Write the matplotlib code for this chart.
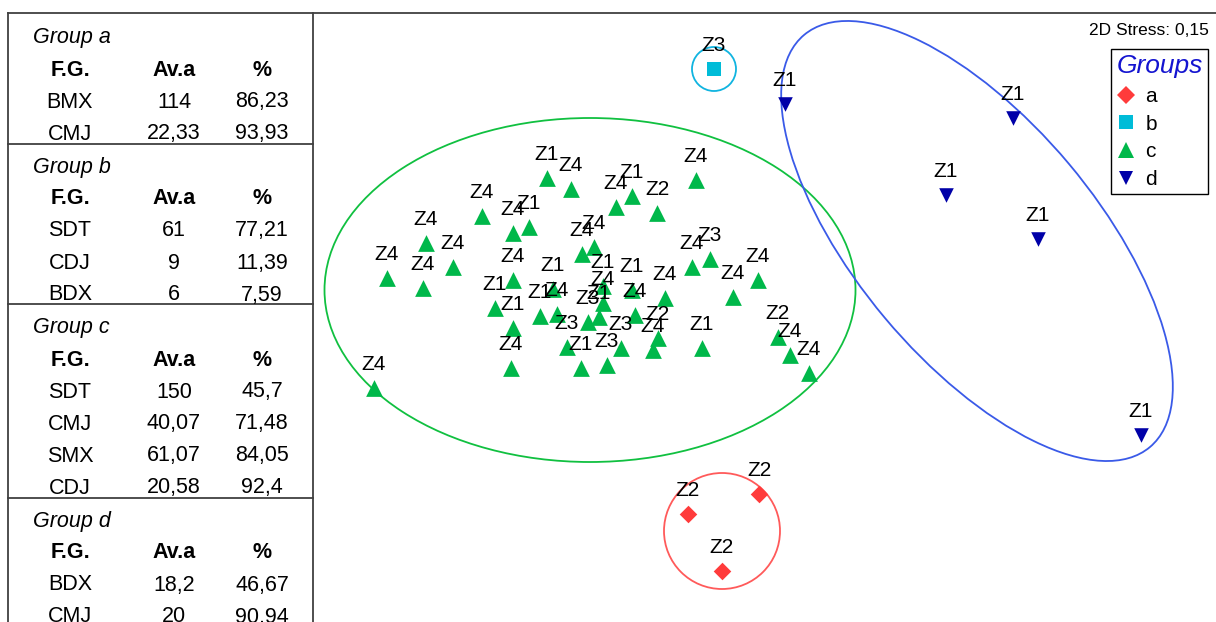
import matplotlib.pyplot as plt
from matplotlib.patches import Ellipse, Circle
from matplotlib.lines import Line2D

plt.rcParams['font.family'] = ['Liberation Sans', 'DejaVu Sans']

# --- nMDS coordinates (dim 1, dim 2) and sample labels ---
a_x = [1.59, 0.88, 1.22]
a_y = [-1.94, -2.14, -2.71]
a_lab = ['Z2', 'Z2', 'Z2']

b_x = [1.14]
b_y = [2.31]
b_lab = ['Z3']

c_x = [-0.53, -0.29, 0.32, 0.16, 0.57, 0.96, -1.18, -0.87, -0.71, -1.74,
       -1.47, -2.13, -1.77, -0.18, -0.06, 0.92, 1.10, 1.58, 1.33, -0.87,
       -0.47, 0.03, 0.03, 0.32, 0.35, 0.65, -1.05, -0.87, -0.60, -0.43,
       -0.12, -0.01, -0.33, 0.21, 0.58, 0.53, -0.19, 0.07, -0.89, 1.02,
       1.78, 1.90, 2.09, -2.26]
c_y = [1.22, 1.11, 1.04, 0.93, 0.87, 1.20, 0.84, 0.67, 0.73, 0.57,
       0.33, 0.22, 0.12, 0.46, 0.53, 0.33, 0.41, 0.20, 0.03, 0.20,
       0.11, 0.14, -0.03, 0.10, -0.15, 0.02, -0.08, -0.28, -0.16, -0.14,
       -0.22, -0.17, -0.47, -0.48, -0.38, -0.50, -0.68, -0.65, -0.68, -0.48,
       -0.37, -0.55, -0.73, -0.88]
c_lab = ['Z1', 'Z4', 'Z1', 'Z4', 'Z2', 'Z4', 'Z4', 'Z4', 'Z1', 'Z4',
         'Z4', 'Z4', 'Z4', 'Z4', 'Z4', 'Z4', 'Z3', 'Z4', 'Z4', 'Z4',
         'Z1', 'Z1', 'Z4', 'Z1', 'Z4', 'Z4', 'Z1', 'Z1', 'Z1', 'Z4',
         'Z3', 'Z1', 'Z3', 'Z3', 'Z2', 'Z4', 'Z1', 'Z3', 'Z4', 'Z1',
         'Z2', 'Z4', 'Z4', 'Z4']

d_x = [1.85, 4.13, 3.46, 4.38, 5.41]
d_y = [1.96, 1.82, 1.05, 0.61, -1.35]
d_lab = ['Z1', 'Z1', 'Z1', 'Z1', 'Z1']

stress = '0,15'

# --- functional group summary table ---
tab_groups = ['Group a', 'Group b', 'Group c', 'Group d']
tab_header = ['F.G.', 'Av.a', '%']
fg_a = ['BMX', 'CMJ']
av_a = ['114', '22,33']
pct_a = ['86,23', '93,93']
fg_b = ['SDT', 'CDJ', 'BDX']
av_b = ['61', '9', '6']
pct_b = ['77,21', '11,39', '7,59']
fg_c = ['SDT', 'CMJ', 'SMX', 'CDJ']
av_c = ['150', '40,07', '61,07', '20,58']
pct_c = ['45,7', '71,48', '84,05', '92,4']
fg_d = ['BDX', 'CMJ']
av_d = ['18,2', '20']
pct_d = ['46,67', '90,94']

W, H = 1216, 622
fig = plt.figure(figsize=(W / 100, H / 100), dpi=100)


def fx(px):
    return px / W


def fy(py):
    return 1 - py / H


line_col = '#404040'

# frame lines of the table and top rule
fig.add_artist(Line2D([fx(8), 1], [fy(13), fy(13)], color=line_col, lw=1.3))
fig.add_artist(Line2D([fx(8), fx(8)], [fy(13), 0], color=line_col, lw=1.3))
fig.add_artist(Line2D([fx(313), fx(313)], [fy(13), 0], color=line_col, lw=1.3))

col_x = [70, 174, 262]
pitch = 32
y = 36
blocks = [(fg_a, av_a, pct_a), (fg_b, av_b, pct_b),
          (fg_c, av_c, pct_c), (fg_d, av_d, pct_d)]
for gi, (fg, av, pct) in enumerate(blocks):
    fig.text(fx(33), fy(y + 7.5), tab_groups[gi], fontsize=15.5, style='italic',
             ha='left', va='baseline')
    y += pitch
    for cx, h in zip(col_x, tab_header):
        fig.text(fx(cx), fy(y + 7.5), h, fontsize=15.5, weight='bold',
                 ha='center', va='baseline')
    for row in zip(fg, av, pct):
        y += pitch
        for cx, v in zip(col_x, row):
            fig.text(fx(cx), fy(y + 7.5), v, fontsize=15.5,
                     ha='center', va='baseline')
    if gi < len(blocks) - 1:
        sep = y + 11.5
        fig.add_artist(Line2D([fx(8), fx(313)], [fy(sep), fy(sep)],
                              color=line_col, lw=1.3))
        y = sep + 21.5

# --- ordination plot ---
ax = fig.add_axes([fx(313), 0, fx(W - 313), (H - 13) / H])
ax.set_xlim(-2.87, 6.16)
ax.set_ylim(-3.22, 2.87)
ax.axis('off')

# group envelopes
ax.add_patch(Ellipse((-0.10, 0.10), 5.31, 3.44, fill=False,
                     edgecolor='#10c040', lw=1.3))
ax.add_patch(Ellipse((3.77, 0.59), 5.38, 2.40, angle=-50, fill=False,
                     edgecolor='#3a5ae8', lw=1.3))
ax.add_patch(Circle((1.22, -2.31), 0.58, fill=False,
                    edgecolor='#ff5a5a', lw=1.3))
ax.add_patch(Circle((1.14, 2.31), 0.22, fill=False,
                    edgecolor='#10b4e0', lw=1.3))

groups = [
    (a_x, a_y, a_lab, 'D', '#ff3b3b', 80, 'a'),
    (b_x, b_y, b_lab, 's', '#00bcd8', 100, 'b'),
    (c_x, c_y, c_lab, '^', '#00b84a', 145, 'c'),
    (d_x, d_y, d_lab, 'v', '#0000a8', 110, 'd'),
]
for xs, ys, labs, mk, col, s, name in groups:
    ax.scatter(xs, ys, marker=mk, s=s, color=col, linewidths=0, zorder=3)
    for x, yy, lab in zip(xs, ys, labs):
        ax.annotate(lab, (x, yy), xytext=(0, 13), textcoords='offset points',
                    ha='center', va='baseline', fontsize=15, zorder=4)

handles = [Line2D([], [], ls='none', marker=mk, color=col, mew=0,
                  ms=s ** 0.5, label=name)
           for _, _, _, mk, col, s, name in groups]
leg = ax.legend(handles=handles, title='Groups', loc='upper right',
                bbox_to_anchor=(0.991, 0.941), borderaxespad=0,
                frameon=True, fancybox=False, edgecolor='black',
                framealpha=1, fontsize=15, handlelength=0.9,
                handletextpad=0.5, borderpad=0.25, labelspacing=0.42,
                title_fontproperties={'style': 'italic', 'size': 19})
leg.get_title().set_color('#1414d0')
leg.get_frame().set_linewidth(1.0)
leg._legend_box.align = 'left'

fig.text(fx(1209), fy(35), '2D Stress: ' + stress, fontsize=12.5,
         ha='right', va='baseline')

fig.savefig('out.png', dpi=100)
